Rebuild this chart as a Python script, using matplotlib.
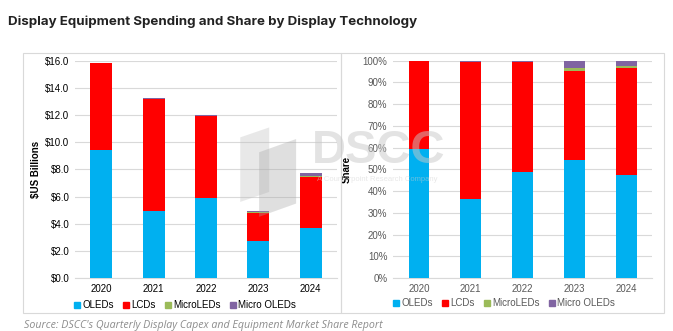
import numpy as np
import matplotlib.pyplot as plt
from matplotlib.patches import Rectangle, Polygon
from matplotlib.lines import Line2D
from matplotlib.ticker import FuncFormatter

anios = ["2020", "2021", "2022", "2023", "2024"]

# gasto en equipos (miles de millones de USD)
gasto_oled = [9.4, 4.9, 5.9, 2.7, 3.65]
gasto_lcd = [6.4, 8.25, 6.05, 2.1, 3.8]
gasto_microled = [0.0, 0.0, 0.0, 0.04, 0.06]
gasto_micro_oled = [0.0, 0.1, 0.05, 0.11, 0.19]

# cuota por tecnologia (%)
cuota_oled = [59.5, 36.5, 49.0, 54.5, 47.5]
cuota_lcd = [40.5, 62.8, 50.5, 41.0, 49.3]
cuota_microled = [0.0, 0.0, 0.0, 1.0, 0.7]
cuota_micro_oled = [0.0, 0.7, 0.5, 3.5, 2.5]

tecnologias = ["OLEDs", "LCDs", "MicroLEDs", "Micro OLEDs"]
colores = ["#00B0F0", "#FF0000", "#9BBB59", "#8064A2"]

plt.rcParams['font.family'] = ['Liberation Sans', 'DejaVu Sans']


def apilar(ax, series, ancho):
    x = np.arange(len(anios))
    base = np.zeros(len(anios))
    for valores, color in zip(series, colores):
        ax.bar(x, valores, ancho, bottom=base, color=color, zorder=3)
        base = base + np.array(valores)
    ax.set_xticks(x)
    ax.set_xticklabels(anios)
    ax.set_xlim(-0.5, len(anios) - 0.5)
    ax.grid(axis='y', color='#d9d9d9', linewidth=0.8, zorder=0)
    for lado in ['top', 'right', 'left']:
        ax.spines[lado].set_visible(False)
    ax.spines['bottom'].set_color('#d9d9d9')
    ax.tick_params(length=0, labelsize=7, pad=4)


def leyenda(fig, x, y, color_texto):
    manejadores = [Line2D([], [], marker='s', linestyle='', color=c, markersize=4)
                   for c in colores]
    fig.legend(manejadores, tecnologias, loc='center', bbox_to_anchor=(x, y),
               ncol=4, frameon=False, fontsize=7, handlelength=0.6,
               handletextpad=0.2, columnspacing=1.0, labelcolor=color_texto)


fig = plt.figure(figsize=(6.73, 3.31), dpi=100)

# marcos de los dos paneles
fig.patches.append(Rectangle((0.034, 0.054), 0.473, 0.786, transform=fig.transFigure,
                             fill=False, edgecolor='#d9d9d9', linewidth=0.8))
fig.patches.append(Rectangle((0.507, 0.054), 0.480, 0.786, transform=fig.transFigure,
                             fill=False, edgecolor='#d9d9d9', linewidth=0.8))

ax1 = fig.add_axes([0.1114, 0.160, 0.389, 0.6565])
apilar(ax1, [gasto_oled, gasto_lcd, gasto_microled, gasto_micro_oled], 0.42)
ax1.set_ylim(0, 16)
ax1.set_yticks(np.arange(0, 17, 2))
ax1.yaxis.set_major_formatter(FuncFormatter(lambda v, p: f"${v:.1f}"))
ax1.set_ylabel("$US Billions", fontsize=7, fontweight='bold', labelpad=3)

ax2 = fig.add_axes([0.584, 0.160, 0.385, 0.6565])
apilar(ax2, [cuota_oled, cuota_lcd, cuota_microled, cuota_micro_oled], 0.40)
ax2.set_ylim(0, 100)
ax2.set_yticks(np.arange(0, 101, 10))
ax2.yaxis.set_major_formatter(FuncFormatter(lambda v, p: f"{v:.0f}%"))
ax2.tick_params(labelcolor='#595959')
ax2.set_ylabel("Share", fontsize=7, fontweight='bold', labelpad=8)

leyenda(fig, 0.275, 0.078, 'black')
leyenda(fig, 0.749, 0.084, '#595959')

# marca de agua
fig.patches.append(Polygon([[0.357, 0.39], [0.400, 0.42], [0.400, 0.615], [0.357, 0.585]],
                           closed=True, transform=fig.transFigure,
                           facecolor='#bfbfbf', alpha=0.35, zorder=5))
fig.patches.append(Polygon([[0.385, 0.345], [0.440, 0.385], [0.440, 0.58], [0.385, 0.54]],
                           closed=True, transform=fig.transFigure,
                           facecolor='#a6a6a6', alpha=0.35, zorder=5))
fig.text(0.563, 0.545, "DSCC", fontsize=34, color='#c8c8c8', alpha=0.5,
         ha='center', va='center', fontweight='bold', zorder=6)
fig.text(0.560, 0.458, "A Counterpoint Research Company", fontsize=5.5,
         color='#d0d0d0', alpha=0.5, ha='center', va='center', zorder=6)

fig.text(0.012, 0.935, "Display Equipment Spending and Share by Display Technology",
         fontsize=9.6, fontweight='bold', family=['Inter', 'DejaVu Sans'],
         color='#222222', ha='left', va='center')
fig.text(0.035, 0.018, "Source: DSCC's Quarterly Display Capex and Equipment Market Share Report",
         fontsize=7.7, style='italic', color='#8c8c8c', ha='left', va='center',
         family=['Open Sans', 'DejaVu Sans'])

plt.savefig("out.png", dpi=100)
